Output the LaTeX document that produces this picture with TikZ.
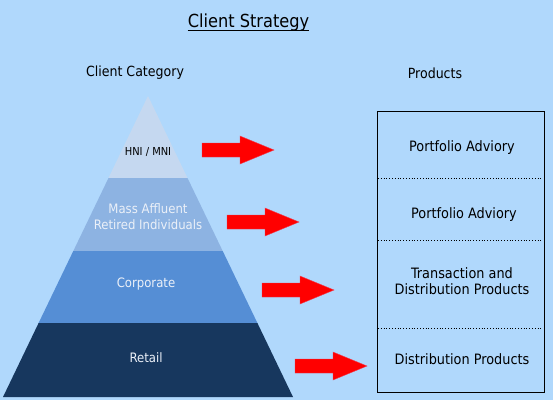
\documentclass[tikz,border=0pt]{standalone}
\usepackage{fontspec}
\setmainfont{DejaVu Sans Condensed}
\begin{document}
\begin{tikzpicture}[x=1pt,y=-1pt,
  bg/.style={fill={rgb,255:red,176;green,216;blue,252}},
  lbl/.style={inner sep=0pt,align=center},
  redarrow/.style={fill={rgb,255:red,255;green,0;blue,0},draw={rgb,255:red,240;green,60;blue,80},line width=0.4pt},
  sep/.style={dotted,line width=0.8pt},
  layertxt/.style={lbl,text={rgb,255:red,235;green,240;blue,248},font=\fontsize{13}{16}\selectfont}]
\fill[bg] (0,0) rectangle (553,400);
\useasboundingbox (0,0) rectangle (553,400);
% title
\node[lbl,anchor=base,font=\fontsize{18}{20}\selectfont] (title) at (248.5,27) {Client Strategy};
\draw[line width=0.9pt] (title.west |- 0,30) -- (title.east |- 0,30);
\node[lbl,font=\fontsize{14}{16}\selectfont] (cat) at (135,73) {Client Category};
\node[lbl,font=\fontsize{14}{16}\selectfont] (prod) at (435,73) {Products};
% pyramid layers
\fill[fill={rgb,255:red,197;green,216;blue,240}] (148,96) -- (187.5,178) -- (108.5,178) -- cycle;
\fill[fill={rgb,255:red,141;green,179;blue,226}] (108.5,178) -- (187.5,178) -- (222.7,251) -- (73.3,251) -- cycle;
\fill[fill={rgb,255:red,85;green,142;blue,213}] (73.3,251) -- (222.7,251) -- (257.4,323) -- (38.6,323) -- cycle;
\fill[fill={rgb,255:red,23;green,55;blue,94}] (38.6,323) -- (257.4,323) -- (293,397) -- (3,397) -- cycle;
\node[lbl,font=\fontsize{11}{13}\selectfont] (hni) at (148,152) {HNI / MNI};
\node[layertxt] (mass) at (148,217) {Mass Affluent\\Retired Individuals};
\node[layertxt] (corp) at (146,284) {Corporate};
\node[layertxt] (retail) at (146,358) {Retail};
% arrows
\foreach \x/\y in {202/150, 227/222, 262/290, 295/366}{
  \filldraw[redarrow] (\x,\y) ++(0,-7) -- ++(38,0) -- ++(0,-7) -- ++(34,14) -- ++(-34,14) -- ++(0,-7) -- ++(-38,0) -- cycle;
}
% products box
\draw[line width=0.8pt] (377,111) rectangle (544,392);
\draw[sep] (378,178) -- (542,178);
\draw[sep] (378,240) -- (542,240);
\draw[sep] (378,328) -- (542,328);
\begin{scope}[every node/.style={lbl,font=\fontsize{14.3}{16.5}\selectfont}]
\node (p1) at (462,148) {Portfolio Adviory};
\node (p2) at (464,215) {Portfolio Adviory};
\node (p3) at (462,281) {Transaction and\\Distribution Products};
\node (p4) at (462,359) {Distribution Products};
\end{scope}
\end{tikzpicture}
\end{document}
